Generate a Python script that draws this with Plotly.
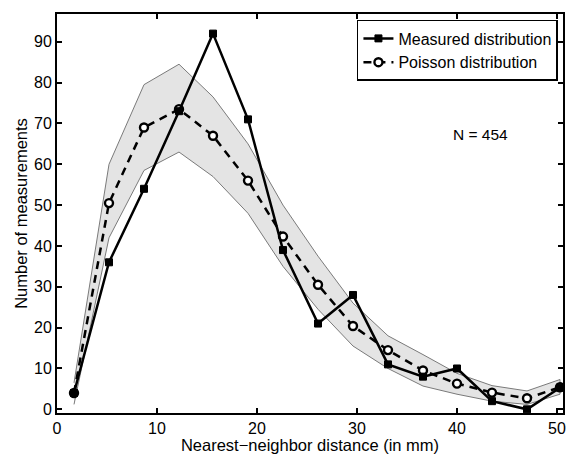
import plotly.graph_objects as go

distance = [1.7, 5.2, 8.7, 12.2, 15.6, 19.1, 22.6, 26.1, 29.6, 33.1, 36.6, 40.0, 43.5, 47.0, 50.3]
measured = [4, 36, 54, 73, 92, 71, 39, 21, 28, 11, 8, 10, 2, 0, 5.3]
poisson = [4, 50.5, 69, 73.5, 67, 56, 42.3, 30.5, 20.4, 14.5, 9.5, 6.3, 4.1, 2.7, 5.4]
band_upper = [6.5, 60, 79.5, 84.5, 76.5, 65, 50, 37.5, 26, 18, 13.4, 8.8, 5.8, 4.5, 7.3]
band_lower = [1.2, 42, 58.5, 63, 57, 48, 35, 24.5, 15.5, 10, 5.7, 3.7, 2, 1.2, 3.7]

x_ticks = [0, 10, 20, 30, 40, 50]
y_ticks = [0, 10, 20, 30, 40, 50, 60, 70, 80, 90]

FONT = "Liberation Sans, Arial, Helvetica, sans-serif"

fig = go.Figure()

fig.add_trace(go.Scatter(
    x=distance + distance[::-1],
    y=band_upper + band_lower[::-1],
    fill="toself", fillcolor="#e4e4e4",
    line=dict(color="#7a7a7a", width=1),
    mode="lines", showlegend=False, hoverinfo="skip",
))

fig.add_trace(go.Scatter(
    x=distance, y=poisson, name="Poisson distribution",
    mode="lines+markers",
    line=dict(color="black", width=2.5, dash="8px,6px"),
    marker=dict(symbol="circle", size=8, color="white",
                line=dict(color="black", width=2.4)),
))

fig.add_trace(go.Scatter(
    x=distance, y=measured, name="Measured distribution",
    mode="lines+markers",
    line=dict(color="black", width=2.5),
    marker=dict(symbol="square", size=7, color="black",
                line=dict(color="black", width=1)),
))

fig.add_annotation(x=42.3, y=67.2, text="N = 454", showarrow=False,
                   font=dict(size=15.5, color="black", family=FONT))

axis_common = dict(
    showline=True, linecolor="black", linewidth=2, mirror="allticks",
    ticks="inside", ticklen=5, tickwidth=1.5, tickcolor="black",
    showgrid=False, zeroline=False, automargin=False,
    tickfont=dict(size=16, color="black", family=FONT),
)

fig.update_xaxes(range=[0, 50.6], tickvals=x_ticks,
                 title=dict(text="Nearest\u2212neighbor distance (in mm)",
                            font=dict(size=16.5, color="black", family=FONT),
                            standoff=6),
                 **axis_common)
fig.update_yaxes(range=[-0.9, 96.8], tickvals=y_ticks,
                 title=dict(text="Number of measurements",
                            font=dict(size=16.5, color="black", family=FONT),
                            standoff=2),
                 **axis_common)

fig.update_layout(
    width=568, height=454,
    margin=dict(l=57, r=5, t=14, b=41),
    paper_bgcolor="white", plot_bgcolor="white",
    legend=dict(x=0.99, y=0.985, xanchor="right", yanchor="top",
                traceorder="reversed",
                bordercolor="black", borderwidth=1.5, bgcolor="white",
                font=dict(size=16, color="black", family=FONT),
                itemwidth=30, tracegroupgap=0),
)

fig.write_html("out.html", config={"displayModeBar": False},
               post_script="document.body.style.margin='0';document.body.style.overflow='hidden';")
